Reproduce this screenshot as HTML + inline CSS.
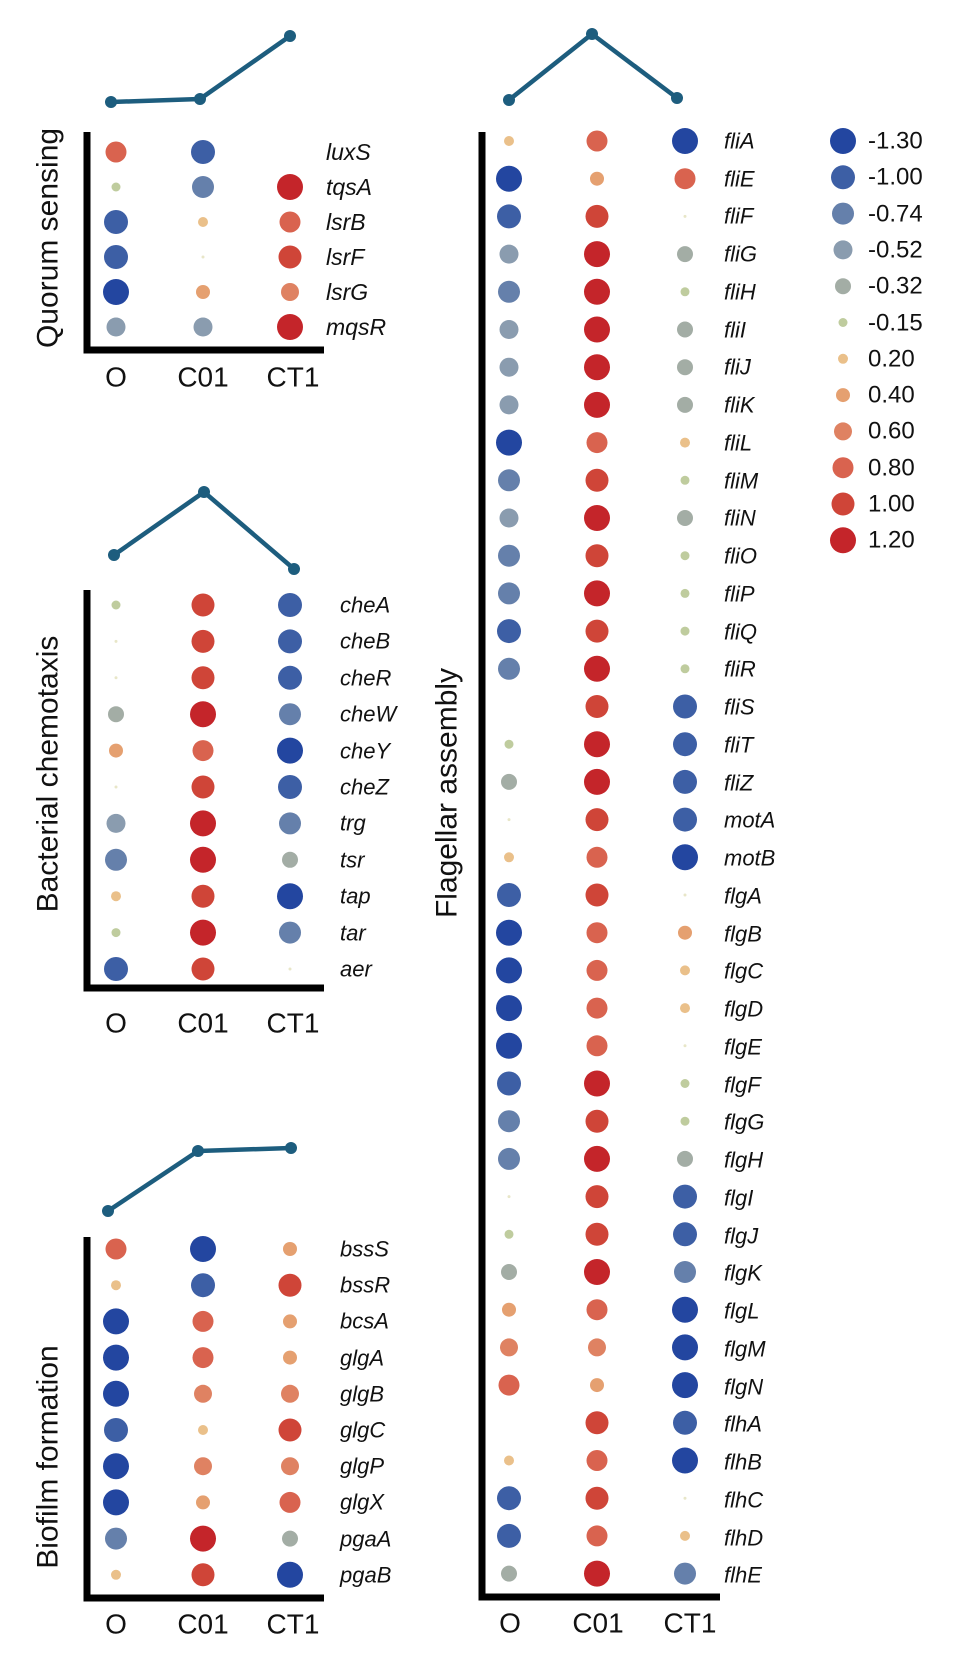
<!DOCTYPE html>
<html><head><meta charset="utf-8"><style>
html,body{margin:0;padding:0;background:#fff;}
svg{display:block;font-family:"Liberation Sans",sans-serif;}
.g{font-style:italic;font-size:22px;fill:#111;dominant-baseline:central;}
.x{font-size:28px;fill:#111;text-anchor:middle;dominant-baseline:central;}
.t{font-size:30px;fill:#111;text-anchor:middle;dominant-baseline:central;}
.l{font-size:24px;fill:#111;dominant-baseline:central;}
</style></head><body>
<svg id="s" width="955" height="1656" viewBox="0 0 955 1656">
<g fill="none" stroke="#1d5d7e" stroke-width="4.5" stroke-linejoin="round">
<polyline points="111,102 200,99 290,36"/>
<polyline points="114,555 204,492 294,569"/>
<polyline points="108,1211 198,1151 291,1148"/>
<polyline points="509,100 592,34 677,98"/>
</g>
<g fill="#1d5d7e">
<circle cx="111" cy="102" r="6"/><circle cx="200" cy="99" r="6"/><circle cx="290" cy="36" r="6"/>
<circle cx="114" cy="555" r="6"/><circle cx="204" cy="492" r="6"/><circle cx="294" cy="569" r="6"/>
<circle cx="108" cy="1211" r="6"/><circle cx="198" cy="1151" r="6"/><circle cx="291" cy="1148" r="6"/>
<circle cx="509" cy="100" r="6"/><circle cx="592" cy="34" r="6"/><circle cx="677" cy="98" r="6"/>
</g>
<g fill="none" stroke="#000" stroke-width="7">
<polyline points="87,132 87,350 324,350"/>
<polyline points="87,590 87,988 324,988"/>
<polyline points="87,1237 87,1598 324,1598"/>
<polyline points="482,132 482,1597 720,1597"/>
</g>
<text class="t" transform="translate(48,238) rotate(-90)">Quorum sensing</text>
<text class="t" transform="translate(48,774) rotate(-90)">Bacterial chemotaxis</text>
<text class="t" transform="translate(48,1457) rotate(-90)">Biofilm formation</text>
<text class="t" transform="translate(447,793) rotate(-90)">Flagellar assembly</text>
<g class="x">
<text x="116" y="377">O</text><text x="203" y="377">C01</text><text x="293" y="377">CT1</text>
<text x="116" y="1023">O</text><text x="203" y="1023">C01</text><text x="293" y="1023">CT1</text>
<text x="116" y="1624">O</text><text x="203" y="1624">C01</text><text x="293" y="1624">CT1</text>
<text x="510" y="1623">O</text><text x="598" y="1623">C01</text><text x="690" y="1623">CT1</text>
</g>
<g class="g" style="font-size:23px">
<text x="326" y="152">luxS</text><text x="326" y="187">tqsA</text><text x="326" y="222">lsrB</text><text x="326" y="257">lsrF</text><text x="326" y="292">lsrG</text><text x="326" y="327">mqsR</text>
</g>
<g class="g">
<text x="340" y="605">cheA</text><text x="340" y="641">cheB</text><text x="340" y="678">cheR</text><text x="340" y="714">cheW</text><text x="340" y="751">cheY</text><text x="340" y="787">cheZ</text><text x="340" y="823">trg</text><text x="340" y="860">tsr</text><text x="340" y="896">tap</text><text x="340" y="933">tar</text><text x="340" y="969">aer</text>
<text x="340" y="1249">bssS</text><text x="340" y="1285">bssR</text><text x="340" y="1321">bcsA</text><text x="340" y="1358">glgA</text><text x="340" y="1394">glgB</text><text x="340" y="1430">glgC</text><text x="340" y="1466">glgP</text><text x="340" y="1502">glgX</text><text x="340" y="1539">pgaA</text><text x="340" y="1575">pgaB</text>
</g>
<g class="g">
<text x="724" y="141">fliA</text><text x="724" y="179">fliE</text><text x="724" y="216">fliF</text><text x="724" y="254">fliG</text><text x="724" y="292">fliH</text><text x="724" y="330">fliI</text><text x="724" y="367">fliJ</text><text x="724" y="405">fliK</text><text x="724" y="443">fliL</text><text x="724" y="481">fliM</text><text x="724" y="518">fliN</text><text x="724" y="556">fliO</text><text x="724" y="594">fliP</text><text x="724" y="632">fliQ</text><text x="724" y="669">fliR</text><text x="724" y="707">fliS</text><text x="724" y="745">fliT</text><text x="724" y="783">fliZ</text><text x="724" y="820">motA</text><text x="724" y="858">motB</text><text x="724" y="896">flgA</text><text x="724" y="934">flgB</text><text x="724" y="971">flgC</text><text x="724" y="1009">flgD</text><text x="724" y="1047">flgE</text><text x="724" y="1085">flgF</text><text x="724" y="1122">flgG</text><text x="724" y="1160">flgH</text><text x="724" y="1198">flgI</text><text x="724" y="1236">flgJ</text><text x="724" y="1273">flgK</text><text x="724" y="1311">flgL</text><text x="724" y="1349">flgM</text><text x="724" y="1387">flgN</text><text x="724" y="1424">flhA</text><text x="724" y="1462">flhB</text><text x="724" y="1500">flhC</text><text x="724" y="1538">flhD</text><text x="724" y="1575">flhE</text>
</g>
<g class="l">
<text x="868" y="141">-1.30</text><text x="868" y="177">-1.00</text><text x="868" y="214">-0.74</text><text x="868" y="250">-0.52</text><text x="868" y="286">-0.32</text><text x="868" y="323">-0.15</text><text x="868" y="359">0.20</text><text x="868" y="395">0.40</text><text x="868" y="431">0.60</text><text x="868" y="468">0.80</text><text x="868" y="504">1.00</text><text x="868" y="540">1.20</text>
</g>
<g id="dots"></g>
</svg>
<script>
var C=["#2346a0","#3d5fa5","#6580ab","#8a9caf","#a3ada5","#bfcc9e","#eac08a","#e5a070","#df8262","#d9634f","#cf4538","#c4252a"];
var R=[13,12,11,9.5,8,4.5,5,7,9,10.5,11.5,13];
var out="";
function dot(x,y,c){ if(c===null)return;
 if(c<0){out+='<circle cx="'+x+'" cy="'+y+'" r="1.5" fill="#e8e6c8"/>';return;}
 out+='<circle cx="'+x+'" cy="'+y+'" r="'+R[c]+'" fill="'+C[c]+'"/>';}
var N=null,T=-1;
function block(y0,dy,xs,rows){rows.forEach(function(r,i){for(var j=0;j<3;j++)dot(xs[j],y0+i*dy,r[j]);});}
block(152,35,[116,203,290],[[9,1,N],[5,2,11],[1,6,9],[1,T,10],[0,7,8],[3,3,11]]);
block(605,36.4,[116,203,290],[[5,10,1],[T,10,1],[T,10,1],[4,11,2],[7,9,0],[T,10,1],[3,11,2],[2,11,4],[6,10,0],[5,11,2],[1,10,T]]);
block(1249,36.2,[116,203,290],[[9,0,7],[6,1,10],[0,9,7],[0,9,7],[0,8,8],[1,6,10],[0,8,8],[0,7,9],[2,11,4],[6,10,0]]);
block(141,37.7,[509,597,685],[[6,9,0],[0,7,9],[1,10,T],[3,11,4],[2,11,5],[3,11,4],[3,11,4],[3,11,4],[0,9,6],[2,10,5],[3,11,4],[2,10,5],[2,11,5],[1,10,5],[2,11,5],[N,10,1],[5,11,1],[4,11,1],[T,10,1],[6,9,0],[1,10,T],[0,9,7],[0,9,6],[0,9,6],[0,9,T],[1,11,5],[2,10,5],[2,11,4],[T,10,1],[5,10,1],[4,11,2],[7,9,0],[8,8,0],[9,7,0],[N,10,1],[6,9,0],[1,10,T],[1,9,6],[4,11,2]]);
for(var k=0;k<12;k++)dot(843,141+k*36.3,k);
document.getElementById("dots").innerHTML=out;
</script>
</body></html>
